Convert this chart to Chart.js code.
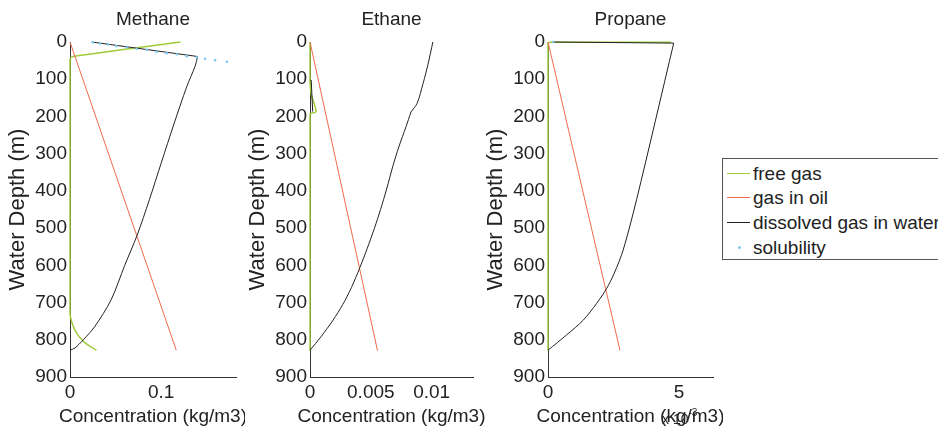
<!DOCTYPE html>
<html>
<head>
<meta charset="utf-8">
<script src="https://cdn.jsdelivr.net/npm/chart.js@4.4.0/dist/chart.umd.min.js"></script>
<style>
  html, body { margin: 0; padding: 0; background: #fff; }
  body { width: 938px; height: 429px; position: relative; overflow: hidden;
         font-family: 'Liberation Sans', Arial, sans-serif; color: #222; }
  canvas { position: absolute; top: 0; }
  #legend { position: absolute; left: 722px; top: 158px; width: 260px; height: 100px;
            border: 1px solid #555; background: #fff; font-size: 19px; }
  #legend .row { position: absolute; left: 0; height: 22px; line-height: 22px; white-space: nowrap; }
  #legend .swatch { position: absolute; left: 4px; width: 23px; top: 10px; height: 1px; }
  #legend .dot { position: absolute; left: 15px; top: 9px; width: 3px; height: 3px; border-radius: 2px; }
  #legend .label { position: absolute; left: 30px; top: 0; }
  #mult { position: absolute; left: 662px; top: 409px; font-size: 14px; white-space: nowrap; }
  #mult sup { font-size: 10px; position: relative; top: -2px; }
</style>
</head>
<body>
<canvas id="methane" width="245" height="429" style="left:0px"></canvas>
<canvas id="ethane" width="245" height="429" style="left:240px"></canvas>
<canvas id="propane" width="245" height="429" style="left:478px"></canvas>

<div id="legend">
  <div class="row" style="top:4px"><span class="swatch" style="background:#a0cc3c"></span><span class="label">free gas</span></div>
  <div class="row" style="top:28px"><span class="swatch" style="background:#f06a4c"></span><span class="label">gas in oil</span></div>
  <div class="row" style="top:53px"><span class="swatch" style="background:#222"></span><span class="label">dissolved gas in water</span></div>
  <div class="row" style="top:78px"><span class="dot" style="background:#7cc8f0"></span><span class="label">solubility</span></div>
</div>
<div id="mult">x 10<sup>-3</sup></div>

<script>
// depth axis (m), shared by all three panels
const depthTicks = [0, 100, 200, 300, 400, 500, 600, 700, 800, 900];

// Methane, concentration in kg/m3 vs depth in m
const methaneTicks = [0, 0.1];
const methaneFree = [[0.121, 0], [0.005, 38], [0, 45], [0, 728], [0.003, 760], [0.008, 785], [0.015, 805], [0.022, 818], [0.029, 828]];
const methaneOil = [[0, 0], [0.1165, 828]];
const methaneDissolved = [[0, 828], [0.0055, 822], [0.0146, 800], [0.027, 765], [0.045, 693], [0.06, 600], [0.0736, 519], [0.087, 424], [0.1, 325], [0.114, 220], [0.128, 120], [0.137, 66], [0.14, 39]];
const methaneDissolvedSurface = [[0.14, 39], [0.024, 0]];
const methaneSolubility = [[0.025, 1], [0.033, 4], [0.042, 7], [0.051, 11], [0.062, 14], [0.073, 18], [0.084, 21], [0.095, 26], [0.106, 30], [0.117, 33], [0.128, 38], [0.139, 41], [0.148, 45], [0.159, 49], [0.172, 53]];

// Ethane
const ethaneTicks = [0, 0.005, 0.01];
const ethaneFree = [[0, 0], [0, 105], [0.0001, 140], [0.0005, 187], [0.00005, 192], [0, 195], [0, 828]];
const ethaneOil = [[0, 0], [0.00555, 829]];
const ethaneDissolved = [[0, 828], [0.0009, 792], [0.0019, 747], [0.0027, 705], [0.0034, 660], [0.0041, 606], [0.0047, 555], [0.0053, 500], [0.0058, 450], [0.0063, 395], [0.0068, 335], [0.0073, 282], [0.0079, 227], [0.0083, 188]];
const ethaneDissolvedUpper = [[0.0083, 188], [0.0088, 165], [0.0093, 111], [0.0097, 60], [0.0101, 0]];
const ethaneDissolvedTop = [[0.0001, 102], [0.00022, 187]];
const ethaneSolubility = [];

// Propane (x axis in units of 1e-3 kg/m3)
const propaneTicks = [0, 5];
const propaneFree = [[4.7, 1], [0.1, 1], [0, 3], [0, 828]];
const propaneOil = [[0, 0], [2.75, 829]];
const propaneDissolved = [[0, 828], [0.71, 787], [1.35, 747], [1.86, 702], [2.24, 662], [2.53, 621], [2.87, 559], [3.38, 424], [4.8, 3]];
const propaneDissolvedSurface = [[4.8, 3], [0.2, 0]];
const propaneSolubility = [[0.2, 0]];

const FONT = "'Liberation Sans', Arial, sans-serif";
const GREEN = '#a0cc3c', RED = '#f06a4c', BLACK = '#222', BLUE = '#7cc8f0';

function pts(arr) {
    return arr.map(p => ({ x: p[0], y: p[1] }));
}

function lineSet(arr, color, tension, width) {
    return { data: pts(arr), showLine: true, borderColor: color, borderWidth: width || 1, pointRadius: 0, tension: tension || 0, clip: 3 };
}

// panel title above and x label below, centred on the plot area (no squeezing)
const panelText = {
    id: 'panelText',
    afterDraw(chart, args, opts) {
        const { ctx, chartArea } = chart;
        const cx = (chartArea.left + chartArea.right) / 2;
        ctx.save();
        ctx.font = '19px ' + FONT;
        ctx.fillStyle = '#222';
        ctx.textAlign = 'center';
        ctx.textBaseline = 'middle';
        ctx.fillText(opts.title, cx, 20);
        ctx.fillText('Concentration (kg/m3)', cx, 417);
        ctx.restore();
    }
};

function makePanel(id, name, xMax, xTicks, free, oil, curves, straight, solubility, padRight) {
    const datasets = [
        { data: pts(solubility), showLine: false, pointRadius: 1.3, pointBackgroundColor: BLUE, pointBorderWidth: 0, clip: 3 }
    ];
    curves.forEach(c => datasets.push(lineSet(c, BLACK, 0.3)));
    straight.forEach(s => datasets.push(lineSet(s, BLACK, 0)));
    datasets.push(lineSet(oil, RED));
    datasets.push(lineSet(free, GREEN, 0.2, 1.5));

    return new Chart(document.getElementById(id), {
        type: 'scatter',
        data: { datasets: datasets },
        plugins: [panelText],
        options: {
            responsive: false,
            animation: false,
            layout: { padding: { top: 42, right: padRight, bottom: 0, left: 0 } },
            plugins: {
                legend: { display: false },
                tooltip: { enabled: false },
                panelText: { title: name }
            },
            scales: {
                x: {
                    type: 'linear', min: 0, max: xMax,
                    grid: { display: false, drawTicks: false },
                    border: { color: '#333', width: 1 },
                    afterBuildTicks: s => { s.ticks = xTicks.map(v => ({ value: v })); },
                    afterFit: s => { s.height = 52; },
                    ticks: { color: '#222', font: { size: 19, family: FONT }, padding: 4, callback: v => String(v), maxRotation: 0 }
                },
                y: {
                    type: 'linear', reverse: true, min: 0, max: 900,
                    grid: { display: false, drawTicks: false },
                    border: { color: '#333', width: 1 },
                    afterBuildTicks: s => { s.ticks = depthTicks.map(v => ({ value: v })); },
                    afterFit: s => { s.width = 70; },
                    ticks: { color: '#222', font: { size: 19, family: FONT }, padding: 3 },
                    title: { display: true, text: 'Water Depth (m)', color: '#222', font: { size: 22, family: FONT }, padding: { top: 5, bottom: 0 } }
                }
            }
        }
    });
}

makePanel('methane', 'Methane', 0.182, methaneTicks, methaneFree, methaneOil, [methaneDissolved], [methaneDissolvedSurface], methaneSolubility, 9);
makePanel('ethane', 'Ethane', 0.0134, ethaneTicks, ethaneFree, ethaneOil, [ethaneDissolved, ethaneDissolvedUpper], [ethaneDissolvedTop], ethaneSolubility, 12);
makePanel('propane', 'Propane', 6.3, propaneTicks, propaneFree, propaneOil, [propaneDissolved], [propaneDissolvedSurface], propaneSolubility, 10);
</script>
</body>
</html>
